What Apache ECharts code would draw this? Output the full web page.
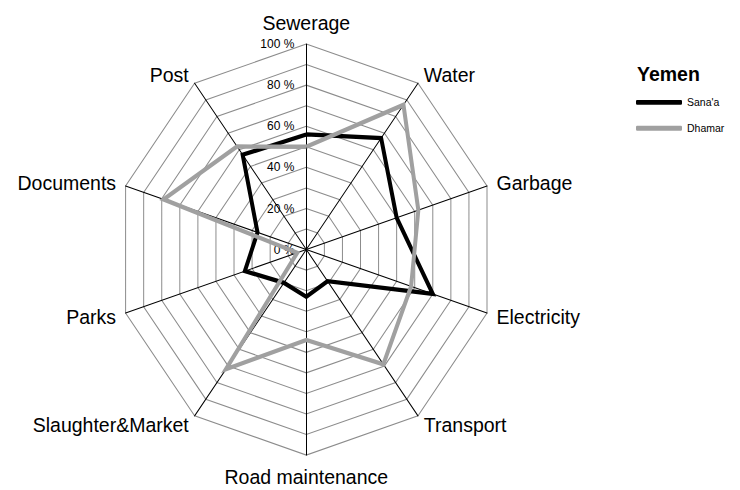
<!DOCTYPE html>
<html>
<head>
<meta charset="utf-8">
<script src="https://cdn.jsdelivr.net/npm/echarts@6/dist/echarts.min.js"></script>
<style>
  html, body { margin: 0; padding: 0; width: 740px; height: 490px; background: #fff; overflow: hidden; }
  /* the original picture is stretched vertically, so draw unstretched and scale up */
  #main { width: 740px; height: 453px; transform: scaleY(1.0817); transform-origin: 0 0; }
</style>
</head>
<body>
<div id="main"></div>
<script>
// categories clockwise from the top, as in the picture
const categories = ['Sewerage', 'Water', 'Garbage', 'Electricity', 'Transport',
  'Road maintenance', 'Slaughter&Market', 'Parks', 'Documents', 'Post'];
const sanaa = [56, 67, 50, 70, 19, 23, 20, 34, 27, 57];
const dhamar = [50, 87, 62, 58, 69, 44, 72, 5, 79, 62];
const seriesNames = ["Sana'a", 'Dhamar'];
const legendTitle = 'Yemen';

const font = '"Liberation Sans", Arial, sans-serif';

// echarts puts radar indicators counter-clockwise, so flip everything after the first one
const ccw = (a) => [a[0], ...a.slice(1).reverse()];

const indicators = ccw(categories).map((name, i) => ({
  name: name,
  max: 100,
  min: 0,
  axisLabel: { show: i === 0 } // only the top axis carries the % labels
}));

let myChart = echarts.init(document.getElementById('main'), null, { renderer: 'svg' });

let option = {
  animation: false,
  title: {
    text: legendTitle,
    left: 637,
    top: 58,
    padding: 0,
    textStyle: { fontFamily: font, fontSize: 19.5, fontWeight: 'bold', color: '#000' }
  },
  legend: {
    data: seriesNames,
    orient: 'vertical',
    left: 636,
    top: 88.6,
    padding: 0,
    itemGap: 12,
    itemWidth: 46,
    itemHeight: 4.5,
    icon: 'roundRect',
    textStyle: { fontFamily: font, fontSize: 10.5, lineHeight: 12, color: '#000' }
  },
  radar: {
    center: [306.3, 230.7],
    radius: 190,
    startAngle: 90,
    shape: 'polygon',
    splitNumber: 10,
    indicator: indicators,
    nameGap: 10,
    axisName: { fontFamily: font, fontSize: 19.5, color: '#000' },
    axisLine: { lineStyle: { color: '#000', width: 1 } },
    splitLine: { lineStyle: { color: '#8c8c8c', width: 1 } },
    splitArea: { show: false },
    axisTick: { show: false },
    axisLabel: {
      margin: 12,
      fontFamily: font,
      fontSize: 12,
      color: '#000',
      formatter: function (value) {
        return value % 20 === 0 ? value + ' %' : '';
      }
    }
  },
  series: [
    {
      type: 'radar',
      symbol: 'none',
      data: [
        {
          name: seriesNames[0],
          value: ccw(sanaa),
          itemStyle: { color: '#000' },
          lineStyle: { color: '#000', width: 4, join: 'miter' }
        },
        {
          name: seriesNames[1],
          value: ccw(dhamar),
          itemStyle: { color: '#a0a0a0' },
          lineStyle: { color: '#a0a0a0', width: 4, join: 'miter' }
        }
      ]
    }
  ]
};

option && myChart.setOption(option);
</script>
</body>
</html>
